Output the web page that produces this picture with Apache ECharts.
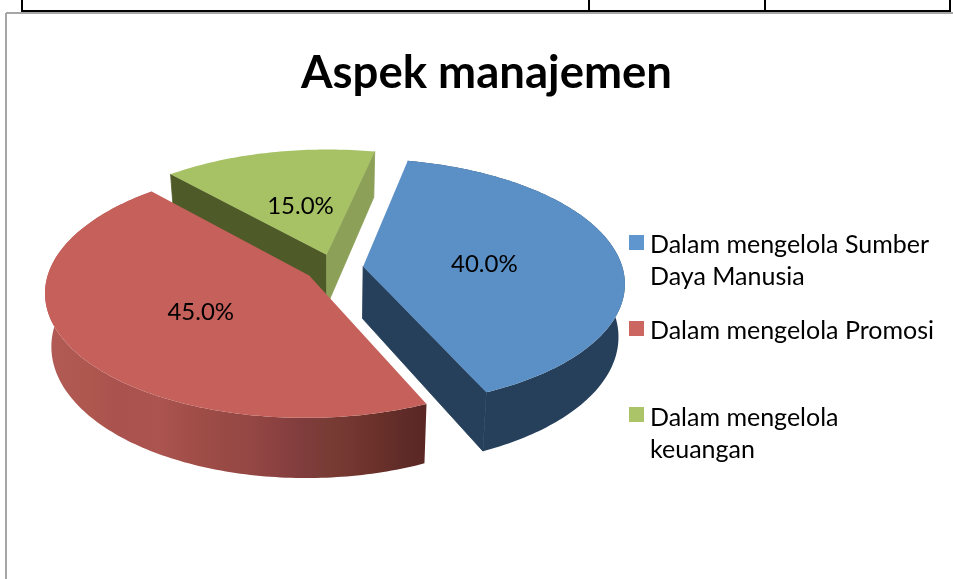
<!DOCTYPE html>
<html>
<head>
<meta charset="utf-8">
<style>html,body{margin:0;padding:0;background:#fff}#c{width:953px;height:579px}</style>
<script src="https://cdn.jsdelivr.net/npm/echarts@6/dist/echarts.min.js"></script>
</head>
<body>
<div id="c"></div>
<script>
const chartTitle = 'Aspek manajemen';
const categories = ['Dalam mengelola Sumber\nDaya Manusia', 'Dalam mengelola Promosi', 'Dalam mengelola\nkeuangan'];
const values = [40, 45, 15];
const labels = ['40.0%', '45.0%', '15.0%'];
const topColors = ['#5B90C6', '#C5605B', '#A7C265'];
const swatchColors = ['#5F96CE', '#CC6660', '#ABC468'];
const paintOrder = [2, 3, 1];
const startAngle = -78;

const FONT = 'Lato, "Open Sans", sans-serif';
const X0 = 334, Y0 = 268, A = 259.5, B = 122, K = 0.128, DEPTH = 52, SHRINK = 0.978, EXPLODE = 0.113, LABEL_R = 0.47;
const labelNudge = [[1, 4], [-1, 4], [3, 2]];
const total = values.reduce((a, b) => a + b, 0);

function project(u, v, bottom) {
  const d = 1 - K * v;
  let x = A * u / d, y = B * v / d;
  if (bottom) { x *= SHRINK; y += DEPTH / d; }
  return [X0 + x, Y0 + y];
}
function rad(t) { return t * Math.PI / 180; }
function arc(ox, oy, a0, a1, bottom) {
  const pts = [], n = Math.ceil(Math.abs(a1 - a0));
  for (let i = 0; i <= n; i++) {
    const t = rad(a0 + (a1 - a0) * i / n);
    pts.push(project(ox + Math.cos(t), oy + Math.sin(t), bottom));
  }
  return pts;
}
const redBands = [[0,'#B25B56'],[.12,'#AE574F'],[.2,'#A9524E'],[.3,'#AB5450'],[.38,'#A24E48'],[.46,'#9A4A45'],[.54,'#944744'],[.6,'#8C4241'],[.68,'#7F3C3C'],[.74,'#793C35'],[.8,'#743731'],[.88,'#693029'],[.94,'#5F2B28'],[1,'#5A2725']];
const wallFill = [
  '#26405B',
  { type: 'linear', x: 0, y: 0, x2: 1, y2: 0, colorStops: redBands.map(s => ({ offset: s[0], color: s[1] })) },
  null
];
// cut faces: [face at start edge, face at end edge]
const cutFill = [['', '#26405B'], ['', ''], ['#4E5A28', '#8CA058']];

function renderSlice(params, api) {
  const i = api.value(0);
  let before = 0;
  for (let j = 0; j < i; j++) before += values[j];
  const a0 = startAngle + before / total * 360;
  const a1 = a0 + api.value(1) / total * 360;
  const mid = rad((a0 + a1) / 2);
  const ox = EXPLODE * Math.cos(mid), oy = EXPLODE * Math.sin(mid);
  const apexT = project(ox, oy, false), apexB = project(ox, oy, true);
  const top = arc(ox, oy, a0, a1, false), low = arc(ox, oy, a0, a1, true);
  const z = paintOrder[i] * 10;
  const kids = [];
  const poly = (points, fill, dz, seam) => kids.push({
    type: 'polygon', shape: { points }, z2: z + dz,
    style: { fill, stroke: seam ? fill : 'none', lineWidth: seam ? 0.8 : 0 }, silent: true
  });
  if (cutFill[i][0]) poly([apexT, top[0], low[0], apexB], cutFill[i][0], 0, true);
  if (cutFill[i][1]) poly([apexT, top[top.length - 1], low[low.length - 1], apexB], cutFill[i][1], 0, true);
  if (wallFill[i]) poly(top.concat(low.slice().reverse()), wallFill[i], 1, false);
  poly([apexT].concat(top), topColors[i], 2, false);
  const lp = project(ox + LABEL_R * Math.cos(mid), oy + LABEL_R * Math.sin(mid), false);
  kids.push({
    type: 'text', z2: 100, x: lp[0] + labelNudge[i][0], y: lp[1] + labelNudge[i][1],
    style: { text: labels[i], fill: '#000', font: '24px ' + FONT, align: 'center', verticalAlign: 'middle' }
  });
  return { type: 'group', children: kids };
}

const chart = echarts.init(document.getElementById('c'), null, { renderer: 'canvas' });
const legendY = [229, 315, 402];
const swatchY = [235, 321, 407];
const frame = (x1, y1, x2, y2, stroke, w) => ({
  type: 'line', shape: { x1, y1, x2, y2 }, style: { stroke, lineWidth: w }, silent: true
});
chart.setOption({
  animation: false,
  backgroundColor: '#fff',
  title: {
    text: chartTitle, left: 481.5, top: 45, textAlign: 'center',
    textStyle: { fontFamily: FONT, fontSize: 45.5, fontWeight: 'bold', color: '#000' }
  },
  graphic: [
    frame(22, 0, 22, 12, '#000', 2), frame(589, 0, 589, 12, '#000', 2),
    frame(765, 0, 765, 12, '#000', 2), frame(950, 0, 950, 12, '#000', 2),
    frame(22, 11, 951, 11, '#000', 2),
    frame(6, 13, 953, 13, '#A6A6A6', 2), frame(6, 13, 6, 579, '#A6A6A6', 2)
  ].concat(categories.flatMap((name, i) => [
    { type: 'rect', shape: { x: 629, y: swatchY[i], width: 15, height: 15 }, style: { fill: swatchColors[i] } },
    { type: 'text', x: 650, y: legendY[i], style: { text: name, fill: '#000', font: '25px ' + FONT, lineHeight: 32, verticalAlign: 'top' } }
  ])),
  series: [{
    type: 'custom',
    coordinateSystem: 'none',
    renderItem: renderSlice,
    data: values.map((v, i) => ({ name: categories[i], value: [i, v] }))
  }]
});
</script>
</body>
</html>
